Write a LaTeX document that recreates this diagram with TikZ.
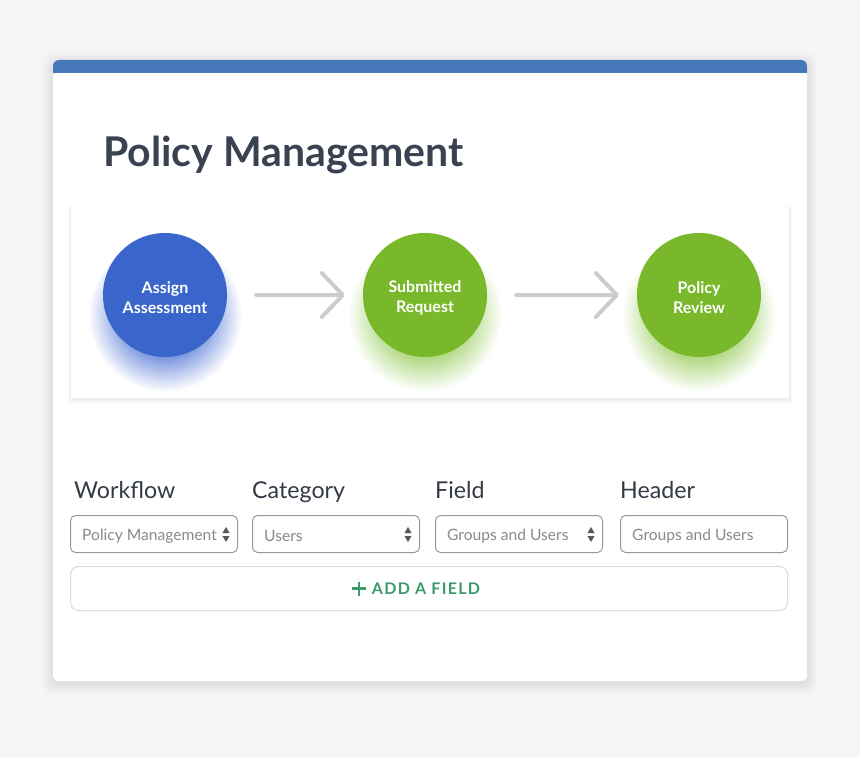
\documentclass[tikz,border=0pt]{standalone}
\usepackage{fontspec}
\setmainfont{Lato}
\usetikzlibrary{arrows.meta}
\definecolor{bgc}{HTML}{F5F5F5}
\definecolor{barc}{HTML}{4677B8}
\definecolor{titlec}{HTML}{3A4252}
\definecolor{labc}{HTML}{333A45}
\definecolor{cblue}{HTML}{3A66CC}
\definecolor{cgreen}{HTML}{78B82A}
\definecolor{glowB}{HTML}{7F9AE0}
\definecolor{glowG}{HTML}{B2D985}
\definecolor{arrc}{HTML}{CCCCCC}
\definecolor{boxc}{HTML}{999999}
\definecolor{boxtxt}{HTML}{8A8A8A}
\definecolor{btnc}{HTML}{DADADA}
\definecolor{addc}{HTML}{3C9A6C}
\pgfdeclareradialshading{glowblue}{\pgfpointorigin}{color(0bp)=(glowB); color(14bp)=(glowB); color(25bp)=(white); color(50bp)=(white)}
\pgfdeclareradialshading{glowgreen}{\pgfpointorigin}{color(0bp)=(glowG); color(14bp)=(glowG); color(25bp)=(white); color(50bp)=(white)}
\tikzset{
  circ/.style={circle, minimum size=124pt, inner sep=0pt},
  circtext/.style={text=white, align=center, inner sep=0pt, yshift=-2.5pt,
    font=\bfseries\fontsize{16}{20}\selectfont},
  flowarr/.style={draw=arrc, line width=4pt, line cap=round,
    -{Straight Barb[length=21pt, width=44pt, line cap=round, line join=round]},
    shorten <=29pt, shorten >=18pt},
  fieldlab/.style={anchor=base west, text=labc, font=\fontsize{23.2}{27}\selectfont, inner sep=0pt},
  dropbox/.style={draw=boxc, line width=1pt, rounded corners=5pt, minimum width=167pt,
    minimum height=37pt, anchor=north west, inner sep=0pt},
  droptxt/.style={anchor=west, text=boxtxt, font=\fontsize{15.6}{18}\selectfont, inner sep=0pt},
  updown/.style={fill=labc!85}
}
\begin{document}
\begin{tikzpicture}[x=1pt,y=-1pt]
\fill[bgc] (0,0) rectangle (860,757);
\useasboundingbox (0,0) rectangle (860,757);
% card shadow
\foreach \i in {1,...,10}{
  \fill[black, opacity=0.009, rounded corners=8pt] (53-\i,60-\i+3) rectangle (807+\i,681+\i+3);
}
\fill[white, rounded corners=6pt] (53,60) rectangle (807,681);
\fill[barc, rounded corners=6pt] (53,60) rectangle (807,80);
\fill[white] (53,73) rectangle (807,84);
\node[anchor=base west, inner sep=0pt, text=titlec, font=\bfseries\fontsize{41}{49}\selectfont] (title) at (103,167) {Policy Management};
% flow panel
\foreach \i in {1,...,6}{
  \fill[black, opacity=0.012] (71-\i*0.5,207-\i*0.3+1) rectangle (789+\i*0.5,398+\i);
}
\fill[white] (71,207) rectangle (789,398);
% glows
\shade[shading=glowblue] (165,315) circle (77);
\shade[shading=glowgreen] (425,315) circle (77);
\shade[shading=glowgreen] (699,315) circle (77);
\node[circ, fill=cblue] (a) at (165,295) {};
\node[circ, fill=cgreen] (b) at (425,295) {};
\node[circ, fill=cgreen] (c) at (699,295) {};
\node[circtext] (at) at (a) {Assign\\Assessment};
\node[circtext] (bt) at (b) {Submitted\\Request};
\node[circtext] (ct) at (c) {Policy\\Review};
\draw[flowarr] (a) -- (b);
\draw[flowarr] (b) -- (c);
% field labels
\node[fieldlab] (l1) at (74,498) {Workflow};
\node[fieldlab] (l2) at (252,498) {Category};
\node[fieldlab] (l3) at (435,498) {Field};
\node[fieldlab] (l4) at (620,498) {Header};
% dropdowns
\node[dropbox] (d1) at (70,515) {};
\node[dropbox] (d2) at (252,515) {};
\node[dropbox] (d3) at (435,515) {};
\node[dropbox] (d4) at (620,515) {};
\node[droptxt] (t1) at ([xshift=12pt,yshift=-2pt]d1.west) {Policy Management};
\node[droptxt] (t2) at ([xshift=12pt,yshift=-2pt]d2.west) {Users};
\node[droptxt] (t3) at ([xshift=12pt,yshift=-2pt]d3.west) {Groups and Users};
\node[droptxt] (t4) at ([xshift=12pt,yshift=-2pt]d4.west) {Groups and Users};
\foreach \d in {d1,d2,d3}{
  \fill[updown] ([xshift=-12pt,yshift=1pt]\d.east) -- ++(-3.5,0) -- ++(3.5,-6) -- ++(3.5,6) -- cycle;
  \fill[updown] ([xshift=-12pt,yshift=-2pt]\d.east) -- ++(-3.5,0) -- ++(3.5,6) -- ++(3.5,-6) -- cycle;
}
% add field button
\node[draw=btnc, line width=1pt, rounded corners=8pt, minimum width=717pt, minimum height=44pt,
  anchor=north west, inner sep=0pt] (btn) at (70,566) {};
\node[text=addc, inner sep=0pt, font=\bfseries\fontsize{16}{19}\selectfont] (btxt) at ([xshift=-3pt]btn.center)
  {\addfontfeatures{LetterSpace=8}ADD A FIELD};
\draw[addc, line width=2.2pt] ([xshift=-13pt]btxt.west) ++(-7,0) -- ++(14,0) ++(-7,-7) -- ++(0,14);
\end{tikzpicture}
\end{document}
